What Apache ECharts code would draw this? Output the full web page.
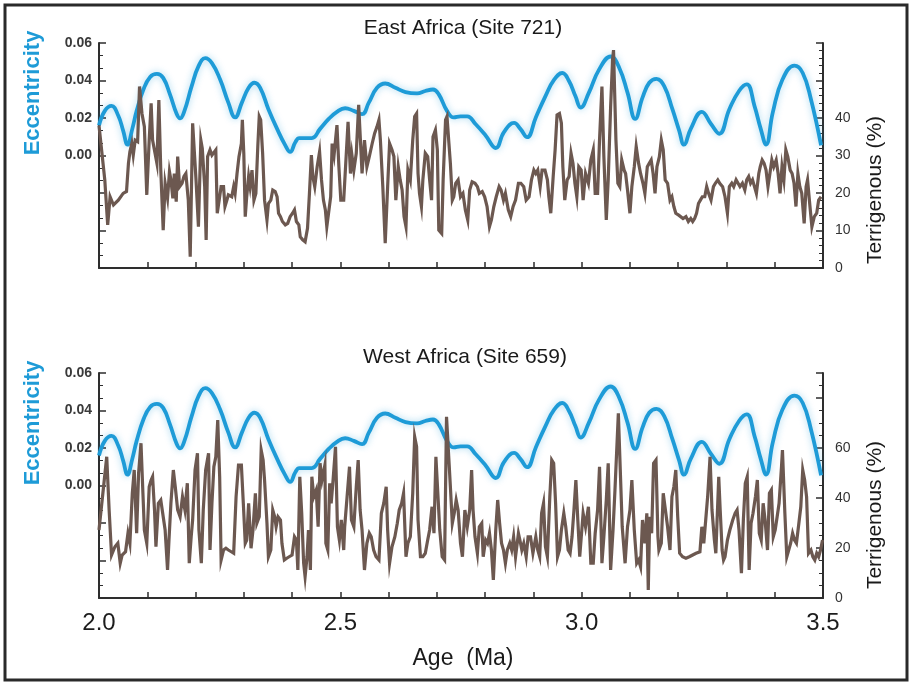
<!DOCTYPE html>
<html>
<head>
<meta charset="utf-8">
<script src="https://cdn.jsdelivr.net/npm/echarts@6/dist/echarts.min.js"></script>
<style>
  html, body { margin: 0; padding: 0; background: #fff; }
  #chart { width: 910px; height: 683px; }
</style>
</head>
<body>
<div id="chart"></div>
<script>
// Orbital eccentricity, shared by both panels: [age (Ma), eccentricity]
const eccentricity = [
  [2.000,0.0160],[2.012,0.0238],[2.026,0.0265],[2.040,0.0212],[2.050,0.0133],[2.059,0.0058],
  [2.069,0.0142],[2.078,0.0238],[2.092,0.0352],[2.106,0.0419],[2.120,0.0435],[2.133,0.0414],
  [2.147,0.0326],[2.161,0.0221],[2.168,0.0198],[2.177,0.0238],[2.192,0.0370],[2.206,0.0475],
  [2.220,0.0519],[2.234,0.0493],[2.251,0.0405],[2.268,0.0282],[2.282,0.0203],[2.296,0.0282],
  [2.310,0.0361],[2.322,0.0388],[2.334,0.0361],[2.351,0.0247],[2.369,0.0142],[2.386,0.0054],
  [2.396,0.0019],[2.407,0.0072],[2.415,0.0093],[2.441,0.0093],[2.458,0.0142],[2.476,0.0195],
  [2.493,0.0233],[2.510,0.0252],[2.528,0.0238],[2.545,0.0221],[2.559,0.0282],[2.576,0.0361],
  [2.593,0.0384],[2.614,0.0361],[2.635,0.0338],[2.659,0.0331],[2.676,0.0344],[2.692,0.0352],
  [2.704,0.0326],[2.721,0.0238],[2.735,0.0203],[2.749,0.0209],[2.763,0.0209],[2.780,0.0168],
  [2.801,0.0107],[2.822,0.0040],[2.839,0.0125],[2.860,0.0174],[2.873,0.0142],[2.887,0.0098],
  [2.905,0.0203],[2.925,0.0317],[2.943,0.0405],[2.960,0.0440],[2.974,0.0396],[2.987,0.0317],
  [2.998,0.0256],[3.015,0.0335],[3.036,0.0458],[3.060,0.0528],[3.078,0.0467],[3.095,0.0335],
  [3.111,0.0195],[3.126,0.0309],[3.140,0.0388],[3.155,0.0409],[3.171,0.0370],[3.188,0.0247],
  [3.202,0.0133],[3.212,0.0058],[3.226,0.0142],[3.249,0.0233],[3.268,0.0168],[3.285,0.0116],
  [3.306,0.0247],[3.326,0.0344],[3.342,0.0379],[3.358,0.0265],[3.371,0.0142],[3.382,0.0058],
  [3.396,0.0230],[3.416,0.0405],[3.441,0.0479],[3.458,0.0440],[3.475,0.0300],[3.496,0.0054]
];

// Site 721 terrigenous fraction: [age (Ma), percent]
const site721 = [
  [2.000,38.0],[2.012,23.5],[2.018,11.5],[2.023,19.0],[2.030,16.8],[2.040,18.1],[2.050,19.9],
  [2.057,20.4],[2.061,27.9],[2.064,31.0],[2.068,33.2],[2.071,30.1],[2.075,34.1],[2.080,33.7],
  [2.084,48.4],[2.089,41.2],[2.094,37.7],[2.099,19.5],[2.104,34.1],[2.108,43.9],[2.111,34.1],
  [2.115,34.1],[2.120,27.9],[2.124,44.8],[2.128,26.1],[2.133,10.1],[2.137,22.6],[2.142,18.6],
  [2.146,25.7],[2.149,23.5],[2.153,18.6],[2.156,25.2],[2.160,17.7],[2.163,29.7],[2.167,21.7],
  [2.172,22.6],[2.176,24.4],[2.180,25.2],[2.185,18.1],[2.189,3.0],[2.194,38.6],[2.197,38.6],
  [2.201,23.5],[2.206,11.0],[2.211,34.1],[2.214,31.9],[2.219,21.7],[2.222,7.5],[2.225,29.7],
  [2.230,31.5],[2.234,30.1],[2.237,29.7],[2.242,31.5],[2.245,14.6],[2.249,18.1],[2.253,21.7],
  [2.258,21.7],[2.261,16.4],[2.265,18.1],[2.268,19.5],[2.272,19.9],[2.275,19.0],[2.279,21.7],
  [2.282,19.9],[2.286,25.2],[2.290,29.7],[2.295,33.2],[2.297,39.5],[2.300,30.6],[2.303,13.7],
  [2.306,19.0],[2.310,24.4],[2.313,21.7],[2.317,26.1],[2.321,18.1],[2.325,19.9],[2.329,32.4],
  [2.332,40.4],[2.335,39.5],[2.339,30.6],[2.343,18.1],[2.348,12.8],[2.351,17.2],[2.356,18.1],
  [2.360,20.8],[2.365,20.4],[2.369,19.0],[2.372,14.6],[2.376,13.7],[2.380,12.4],[2.386,11.5],
  [2.391,11.9],[2.396,13.7],[2.401,14.6],[2.405,15.5],[2.409,12.4],[2.414,11.5],[2.417,8.3],
  [2.422,7.5],[2.427,7.0],[2.432,10.6],[2.436,19.9],[2.440,30.1],[2.443,24.4],[2.447,21.7],
  [2.452,27.0],[2.457,31.0],[2.461,23.5],[2.465,18.1],[2.469,15.5],[2.472,11.0],[2.476,10.6],
  [2.480,19.0],[2.483,33.2],[2.487,30.1],[2.490,34.1],[2.493,38.1],[2.497,27.0],[2.501,18.1],
  [2.507,18.1],[2.516,39.0],[2.521,25.2],[2.524,30.1],[2.528,26.1],[2.533,30.6],[2.538,43.5],
  [2.541,43.0],[2.545,25.2],[2.550,34.1],[2.555,27.0],[2.560,29.7],[2.566,33.2],[2.571,35.9],
  [2.576,37.7],[2.580,39.5],[2.583,34.1],[2.588,21.7],[2.593,6.6],[2.598,21.7],[2.602,33.2],
  [2.607,31.5],[2.611,29.7],[2.615,18.1],[2.620,27.0],[2.624,23.5],[2.628,20.8],[2.632,13.7],
  [2.636,11.0],[2.640,26.1],[2.645,23.5],[2.650,34.1],[2.654,40.4],[2.658,41.2],[2.661,25.2],
  [2.664,19.9],[2.668,16.4],[2.671,23.5],[2.676,30.6],[2.681,29.7],[2.685,23.5],[2.689,18.1],
  [2.692,35.0],[2.697,36.8],[2.701,31.5],[2.704,10.1],[2.710,9.2],[2.713,23.5],[2.718,39.5],
  [2.721,40.4],[2.725,33.2],[2.728,27.9],[2.732,18.1],[2.735,19.0],[2.739,22.6],[2.744,23.5],
  [2.749,19.0],[2.754,19.9],[2.759,15.5],[2.764,12.8],[2.768,20.8],[2.773,23.0],[2.779,22.6],
  [2.784,21.7],[2.788,19.9],[2.794,20.4],[2.799,19.0],[2.804,16.4],[2.809,11.0],[2.813,12.8],
  [2.818,16.4],[2.823,19.0],[2.829,21.7],[2.833,20.8],[2.838,18.1],[2.842,19.9],[2.848,15.5],
  [2.853,13.7],[2.858,16.4],[2.863,18.1],[2.869,22.6],[2.874,22.6],[2.880,21.7],[2.885,18.1],
  [2.891,19.0],[2.896,23.5],[2.901,26.1],[2.905,25.2],[2.909,26.1],[2.914,21.7],[2.918,26.1],
  [2.924,26.1],[2.929,23.5],[2.932,19.0],[2.936,14.6],[2.941,24.4],[2.945,31.5],[2.949,40.8],
  [2.954,41.2],[2.958,38.6],[2.961,27.0],[2.965,18.1],[2.970,23.5],[2.974,24.4],[2.978,30.6],
  [2.982,27.9],[2.986,22.6],[2.990,19.0],[2.994,27.0],[2.999,26.1],[3.003,18.1],[3.008,25.2],
  [3.014,22.6],[3.019,28.8],[3.024,31.5],[3.028,19.9],[3.033,19.9],[3.037,34.1],[3.042,48.4],
  [3.046,29.7],[3.051,12.8],[3.055,23.5],[3.060,43.0],[3.064,55.5],[3.066,58.1],[3.071,34.1],
  [3.075,22.6],[3.079,21.7],[3.083,28.8],[3.088,26.1],[3.091,25.2],[3.095,20.8],[3.100,14.6],
  [3.104,21.7],[3.109,27.0],[3.113,32.4],[3.118,27.9],[3.122,25.2],[3.127,22.6],[3.131,19.9],
  [3.136,27.0],[3.140,27.9],[3.144,28.8],[3.148,25.2],[3.152,19.9],[3.156,27.0],[3.161,29.7],
  [3.165,34.1],[3.169,31.5],[3.173,23.5],[3.178,22.6],[3.183,18.1],[3.187,19.0],[3.191,16.4],
  [3.195,14.6],[3.201,14.1],[3.205,14.1],[3.210,13.2],[3.216,13.7],[3.221,12.4],[3.226,13.2],
  [3.230,12.4],[3.234,13.2],[3.238,14.6],[3.242,17.2],[3.246,18.1],[3.250,19.0],[3.255,19.0],
  [3.259,21.7],[3.263,19.9],[3.268,18.1],[3.273,21.7],[3.277,22.6],[3.282,23.5],[3.286,22.6],
  [3.292,21.7],[3.297,19.0],[3.302,14.6],[3.306,21.7],[3.311,22.6],[3.315,21.7],[3.320,23.5],
  [3.324,22.6],[3.328,21.7],[3.333,22.6],[3.338,20.8],[3.342,23.5],[3.346,24.4],[3.350,22.6],
  [3.354,23.5],[3.358,21.7],[3.362,19.9],[3.367,25.2],[3.370,27.0],[3.374,28.8],[3.378,27.9],
  [3.382,26.1],[3.386,21.7],[3.390,25.2],[3.394,28.8],[3.398,27.0],[3.403,28.8],[3.407,25.2],
  [3.411,19.9],[3.415,27.0],[3.419,23.5],[3.423,31.5],[3.427,29.7],[3.432,26.1],[3.436,25.2],
  [3.440,22.6],[3.444,16.4],[3.448,25.2],[3.452,21.7],[3.456,19.9],[3.461,11.9],[3.465,21.7],
  [3.468,23.5],[3.473,16.4],[3.477,11.0],[3.482,13.7],[3.487,14.6],[3.491,18.1],[3.496,19.0]
];

// Site 659 terrigenous fraction: [age (Ma), percent]
const site659 = [
  [2.000,27.2],[2.016,56.5],[2.021,35.2],[2.026,17.2],[2.033,20.5],[2.039,21.9],[2.044,13.9],
  [2.048,17.2],[2.055,18.5],[2.060,25.9],[2.064,21.9],[2.069,41.9],[2.073,51.2],[2.078,25.9],
  [2.082,49.9],[2.087,61.9],[2.091,41.9],[2.094,27.2],[2.099,21.9],[2.104,44.5],[2.108,47.2],
  [2.111,48.5],[2.115,35.2],[2.118,20.5],[2.123,37.9],[2.128,39.2],[2.132,39.9],[2.137,27.2],
  [2.142,11.2],[2.145,23.2],[2.149,37.9],[2.154,51.2],[2.158,44.5],[2.163,35.2],[2.168,32.5],
  [2.173,40.5],[2.178,35.2],[2.183,45.9],[2.187,13.9],[2.191,24.5],[2.194,31.2],[2.199,51.2],
  [2.204,57.9],[2.207,27.2],[2.212,13.9],[2.216,35.2],[2.221,51.2],[2.227,57.9],[2.230,19.2],
  [2.234,37.9],[2.238,52.5],[2.242,56.5],[2.246,71.2],[2.250,48.5],[2.253,15.2],[2.258,19.2],
  [2.263,19.9],[2.268,19.2],[2.274,18.5],[2.279,17.9],[2.284,40.5],[2.289,53.2],[2.295,53.2],
  [2.299,37.9],[2.303,21.9],[2.306,23.2],[2.310,37.9],[2.315,19.9],[2.319,27.2],[2.324,41.9],
  [2.327,29.9],[2.332,32.5],[2.336,59.2],[2.340,55.2],[2.343,47.2],[2.348,29.9],[2.351,16.5],
  [2.356,19.2],[2.360,35.2],[2.364,32.5],[2.367,28.5],[2.371,32.5],[2.376,31.2],[2.379,21.9],
  [2.384,15.2],[2.389,15.9],[2.394,16.5],[2.400,17.2],[2.405,24.5],[2.409,23.2],[2.412,11.2],
  [2.416,48.5],[2.420,33.9],[2.424,13.9],[2.427,8.5],[2.431,16.5],[2.434,27.2],[2.438,11.2],
  [2.441,48.5],[2.445,40.5],[2.450,43.2],[2.454,28.5],[2.458,53.9],[2.462,47.2],[2.468,53.2],
  [2.470,21.9],[2.474,19.2],[2.478,45.9],[2.481,37.9],[2.485,47.2],[2.490,60.5],[2.494,28.5],
  [2.498,23.2],[2.502,31.2],[2.507,19.2],[2.509,28.5],[2.514,40.5],[2.519,52.5],[2.523,31.2],
  [2.528,28.5],[2.533,44.5],[2.537,55.2],[2.541,35.2],[2.545,27.2],[2.550,11.2],[2.555,21.9],
  [2.560,25.9],[2.564,24.5],[2.569,19.2],[2.574,16.5],[2.580,15.2],[2.585,33.9],[2.590,37.9],
  [2.595,44.5],[2.598,27.2],[2.602,13.9],[2.607,20.5],[2.613,24.5],[2.618,29.9],[2.622,35.2],
  [2.627,37.9],[2.631,41.9],[2.636,16.5],[2.640,21.9],[2.645,24.5],[2.650,41.9],[2.654,64.5],
  [2.658,60.5],[2.661,31.2],[2.666,16.5],[2.671,16.5],[2.676,17.9],[2.681,23.2],[2.685,27.2],
  [2.690,36.5],[2.694,25.9],[2.698,56.5],[2.702,56.5],[2.706,27.2],[2.711,16.5],[2.716,15.2],
  [2.720,72.5],[2.723,72.5],[2.728,44.5],[2.732,29.9],[2.736,33.9],[2.740,39.2],[2.744,35.2],
  [2.749,21.9],[2.753,16.5],[2.758,35.2],[2.763,28.5],[2.768,35.2],[2.772,51.2],[2.775,35.2],
  [2.779,24.5],[2.784,17.9],[2.788,28.5],[2.793,29.9],[2.796,16.5],[2.801,23.2],[2.805,21.9],
  [2.809,25.9],[2.813,19.2],[2.817,7.2],[2.822,27.2],[2.826,39.2],[2.830,29.9],[2.834,21.9],
  [2.838,19.2],[2.842,13.9],[2.846,19.2],[2.851,21.9],[2.855,19.2],[2.859,24.5],[2.863,16.5],
  [2.869,25.9],[2.872,23.2],[2.876,19.2],[2.880,21.9],[2.885,16.5],[2.889,24.5],[2.894,24.5],
  [2.899,17.9],[2.905,24.5],[2.909,19.2],[2.913,16.5],[2.917,33.9],[2.921,37.9],[2.925,20.5],
  [2.929,16.5],[2.934,40.5],[2.938,55.2],[2.942,53.9],[2.946,37.9],[2.950,16.5],[2.954,19.2],
  [2.958,27.2],[2.963,33.9],[2.967,28.5],[2.972,19.2],[2.976,17.9],[2.980,24.5],[2.984,35.2],
  [2.988,47.2],[2.992,31.2],[2.996,16.5],[3.003,33.9],[3.008,28.5],[3.014,36.5],[3.019,13.9],
  [3.024,13.9],[3.028,25.9],[3.033,35.2],[3.037,52.5],[3.042,13.9],[3.046,24.5],[3.051,39.2],
  [3.055,53.9],[3.060,11.2],[3.065,27.2],[3.069,43.2],[3.076,73.9],[3.080,51.2],[3.084,28.5],
  [3.090,13.9],[3.095,28.5],[3.100,35.2],[3.104,47.2],[3.109,27.2],[3.114,13.9],[3.118,15.2],
  [3.122,12.5],[3.126,31.2],[3.131,21.9],[3.135,33.9],[3.138,3.2],[3.141,32.5],[3.145,25.9],
  [3.149,53.9],[3.154,55.2],[3.158,24.5],[3.160,19.2],[3.165,21.9],[3.169,41.9],[3.173,41.9],
  [3.178,28.5],[3.183,19.2],[3.187,40.5],[3.191,44.5],[3.195,51.2],[3.199,32.5],[3.203,17.9],
  [3.209,16.5],[3.216,15.9],[3.223,16.5],[3.230,17.2],[3.237,17.9],[3.245,18.5],[3.249,28.5],
  [3.253,21.9],[3.257,31.2],[3.261,40.5],[3.266,56.5],[3.270,35.2],[3.275,23.2],[3.278,17.9],
  [3.284,48.5],[3.287,35.2],[3.291,19.2],[3.294,15.2],[3.297,16.5],[3.302,23.2],[3.307,27.2],
  [3.313,31.2],[3.318,33.9],[3.322,35.2],[3.326,27.2],[3.331,9.9],[3.335,31.2],[3.339,45.9],
  [3.343,48.5],[3.347,11.2],[3.351,29.9],[3.355,33.9],[3.360,40.5],[3.364,47.2],[3.368,25.9],
  [3.372,23.2],[3.376,37.9],[3.380,31.2],[3.385,19.2],[3.389,41.9],[3.393,43.2],[3.397,24.5],
  [3.401,27.2],[3.405,32.5],[3.409,37.9],[3.414,52.5],[3.416,59.2],[3.421,33.9],[3.425,16.5],
  [3.429,19.2],[3.433,21.9],[3.437,25.9],[3.441,23.2],[3.445,21.9],[3.450,29.9],[3.454,36.5],
  [3.458,51.2],[3.462,47.2],[3.466,40.5],[3.470,17.9],[3.475,19.2],[3.479,16.5],[3.483,15.2],
  [3.487,17.9],[3.491,16.5],[3.495,19.2],[3.499,23.2]
];

const panelTitles = ['East Africa (Site 721)', 'West Africa (Site 659)'];
const terrMax = [60, 90];        // right-axis ranges
const terrStep = [10, 20];       // right-axis label step
const terrLabelMax = [40, 60];   // highest labelled value
const terrMinor = [5, 4];

const BLUE = '#1e9bd7';
const BROWN = '#6c5850';
const INK = '#2e2e2e';
const FONT = '"Liberation Sans", Arial, sans-serif';

const chart = echarts.init(document.getElementById('chart'), null, { renderer: 'canvas' });

const grids = [
  { left: 99, right: 87, top: 43, height: 225 },
  { left: 99, right: 87, top: 373, height: 225 }
];

const axisLine = { show: true, onZero: false, lineStyle: { color: INK, width: 2 } };

const xAxes = grids.map((g, i) => ({
  type: 'value', gridIndex: i, min: 2, max: 3.5, interval: 0.1,
  axisLine: axisLine,
  axisTick: { show: true, inside: true, length: 6, lineStyle: { color: INK, width: 1.5 } },
  splitLine: { show: false },
  axisLabel: {
    show: i === 1, margin: 13, fontSize: 24, color: '#1c1c1c', fontFamily: FONT,
    formatter: v => Math.abs(v * 2 - Math.round(v * 2)) < 1e-6 ? v.toFixed(1) : ''
  }
}));

const yAxes = [];
grids.forEach((g, i) => {
  yAxes.push({
    type: 'value', gridIndex: i, position: 'left', min: -0.06, max: 0.06, interval: 0.02,
    axisLine: axisLine,
    axisTick: { show: true, inside: true, length: 7, lineStyle: { color: INK, width: 1.5 } },
    minorTick: { show: true, splitNumber: 3, length: 4, lineStyle: { color: INK, width: 1 } },
    splitLine: { show: false },
    axisLabel: {
      margin: 7, fontSize: 14, fontWeight: 'bold', color: '#3a3a3a', fontFamily: FONT,
      formatter: v => v < -1e-9 ? '' : Math.abs(v).toFixed(2)
    }
  });
  yAxes.push({
    type: 'value', gridIndex: i, position: 'right', min: 0, max: terrMax[i], interval: terrStep[i],
    axisLine: axisLine,
    axisTick: { show: true, inside: true, length: 7, lineStyle: { color: INK, width: 1.5 } },
    minorTick: { show: true, splitNumber: terrMinor[i], length: 4, lineStyle: { color: INK, width: 1 } },
    splitLine: { show: false },
    axisLabel: {
      margin: 12, fontSize: 14, color: '#333', fontFamily: FONT,
      formatter: v => v > terrLabelMax[i] + 1e-9 ? '' : String(Math.round(v))
    }
  });
});

const series = [];
[site721, site659].forEach((terr, i) => {
  series.push({
    type: 'line', xAxisIndex: i, yAxisIndex: i * 2, data: eccentricity,
    smooth: 0.45, showSymbol: false, z: 2,
    lineStyle: { color: BLUE, width: 3.8, shadowBlur: 7, shadowColor: 'rgba(30,155,215,0.4)' }
  });
  series.push({
    type: 'line', xAxisIndex: i, yAxisIndex: i * 2 + 1, data: terr,
    showSymbol: false, z: 3,
    lineStyle: { color: BROWN, width: 3.2, join: 'miter' }
  });
});

function label(text, x, y, size, color, weight, rotate) {
  return {
    type: 'text', x: x, y: y, rotation: rotate ? Math.PI / 2 : 0, silent: true,
    style: {
      text: text, fill: color, align: 'center', verticalAlign: 'middle',
      font: (weight || 'normal') + ' ' + size + 'px ' + FONT
    }
  };
}

const graphics = [
  { type: 'rect', shape: { x: 5, y: 5, width: 902, height: 675 },
    style: { fill: 'none', stroke: '#2a2a2a', lineWidth: 3 }, silent: true },
  label(panelTitles[0], 463, 28, 21, '#1a1a1a'),
  label(panelTitles[1], 465, 357, 21, '#1a1a1a'),
  label('Eccentricity', 33, 93, 22, BLUE, 'bold', true),
  label('Eccentricity', 33, 423, 22, BLUE, 'bold', true),
  label('Terrigenous (%)', 875, 190, 21, '#1a1a1a', 'normal', true),
  label('Terrigenous (%)', 875, 515, 21, '#1a1a1a', 'normal', true),
  label('Age  (Ma)', 463, 659, 23, '#1a1a1a')
];

chart.setOption({
  animation: false,
  backgroundColor: '#ffffff',
  grid: grids,
  xAxis: xAxes,
  yAxis: yAxes,
  series: series,
  graphic: graphics
});
</script>
</body>
</html>
